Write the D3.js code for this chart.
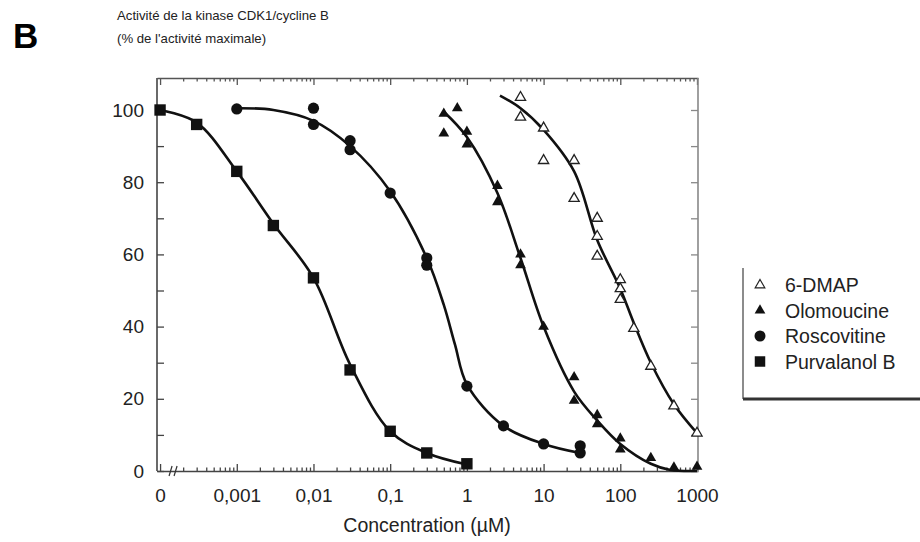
<!DOCTYPE html>
<html>
<head>
<meta charset="UTF-8">
<title>CDK1 inhibition</title>
<script src="https://cdn.jsdelivr.net/npm/d3@7"></script>
<style>
  body { margin: 0; background: #fff; }
  text { font-family: "Liberation Sans", Arial, Helvetica, sans-serif; fill: #222; }
</style>
</head>
<body>
<svg id="chart" width="920" height="542"></svg>
<script>
// concentrations in µM (0 = control), activity in % of max
const dmapConc = [5, 5, 10, 10, 25, 25, 50, 50, 50, 100, 100, 100, 150, 250, 500, 1000];
const dmapAct = [103.5, 98, 95, 86, 86, 75.5, 70, 65, 59.5, 53, 50.5, 47.5, 39.5, 29, 18, 10.5];
const oloConc = [0.5, 0.75, 0.5, 1, 1, 2.5, 2.5, 5, 5, 10, 25, 25, 50, 50, 100, 100, 250, 500, 1000];
const oloAct = [99, 100.5, 93.5, 94, 90.5, 79, 74.5, 60, 57, 40, 26, 19.5, 15.5, 13, 9, 6, 3.6, 1, 1.2];
const roscoConc = [0.001, 0.01, 0.01, 0.03, 0.03, 0.1, 0.3, 0.3, 1, 3, 10, 30, 30];
const roscoAct = [100.3, 100.5, 96, 91.5, 89, 77, 59, 57, 23.5, 12.5, 7.5, 7, 5];
const purvaConc = [0, 0.0003, 0.001, 0.003, 0.01, 0.03, 0.1, 0.3, 1];
const purvaAct = [100, 96, 83, 68, 53.5, 28, 11, 5, 2];

// fitted curves: [conc, activity]
const dmapFit = [[2.7, 104], [5, 100.5], [10, 94.5], [25, 83], [50, 64], [100, 50.5], [150, 41], [250, 30], [500, 18.5], [1000, 10.5]];
const oloFit = [[0.5, 99.5], [1, 92.5], [2.5, 77], [5, 59], [10, 40], [25, 22], [50, 14], [100, 7.5], [250, 2], [450, 0.3], [1000, 0]];
const roscoFit = [[0.001, 100.5], [0.003, 100], [0.01, 97], [0.03, 90], [0.1, 77.5], [0.3, 59], [0.5, 46], [0.7, 35], [1, 24], [3, 12.5], [10, 7.5], [30, 5]];
const purvaFit = [[0, 100], [0.0003, 96.5], [0.001, 83], [0.003, 68.5], [0.01, 53.5], [0.03, 29.5], [0.1, 11], [0.3, 5], [1, 1.8]];

const xTickValues = [0, 0.001, 0.01, 0.1, 1, 10, 100, 1000];
const xTickLabels = ["0", "0,001", "0,01", "0,1", "1", "10", "100", "1000"];
const yTickValues = [0, 10, 20, 30, 40, 50, 60, 70, 80, 90, 100];
const legendNames = ["6-DMAP", "Olomoucine", "Roscovitine", "Purvalanol B"];

const svg = d3.select("#chart");
const pLeft = 157, pRight = 698, pTop = 78, pBottom = 471;
const zeroAt = 1e-4; // where the "0" control is drawn on the broken log axis

const x = d3.scaleLog().domain([Math.pow(10, -4.04), Math.pow(10, 3.013)]).range([pLeft, pRight]);
const y = d3.scaleLinear().domain([0, 100]).range([pBottom, 110]);
const xp = c => x(c === 0 ? zeroAt : c);

// minor log ticks
const minors = [];
for (let e = -4; e < 3; e++) for (let m = 2; m < 10; m++) minors.push(m * Math.pow(10, e));
const majors = xTickValues.map(v => v === 0 ? zeroAt : v);

const axisStyle = (g, col) => {
  g.select(".domain").attr("stroke", col).attr("stroke-width", 1.6);
  g.selectAll(".tick line").attr("stroke", col).attr("stroke-width", 1.3);
  g.selectAll(".tick text").attr("font-size", 19).attr("fill", "#222");
};

svg.append("g").attr("transform", `translate(0,${pBottom})`)
  .call(d3.axisBottom(x).tickValues(minors).tickSize(-3.5).tickSizeOuter(0).tickFormat(""))
  .call(g => axisStyle(g, "#444"));
svg.append("g").attr("transform", `translate(0,${pBottom})`)
  .call(d3.axisBottom(x).tickValues(majors).tickSize(-7).tickSizeOuter(0).tickPadding(18)
    .tickFormat((d, i) => xTickLabels[i]))
  .call(g => axisStyle(g, "#444"))
  .call(g => g.select(".domain").remove());

svg.append("g").attr("transform", `translate(0,${pTop})`)
  .call(d3.axisTop(x).tickValues(minors).tickSize(-3.5).tickSizeOuter(0).tickFormat(""))
  .call(g => axisStyle(g, "#555"));
svg.append("g").attr("transform", `translate(0,${pTop})`)
  .call(d3.axisTop(x).tickValues(majors).tickSize(-7).tickSizeOuter(0).tickFormat(""))
  .call(g => axisStyle(g, "#555"))
  .call(g => g.select(".domain").remove());

svg.append("g").attr("transform", `translate(${pLeft},0)`)
  .call(d3.axisLeft(y).tickValues(yTickValues).tickSize(-7).tickSizeOuter(0).tickPadding(13)
    .tickFormat(d => d % 20 === 0 ? d : ""))
  .call(g => axisStyle(g, "#444"))
  .call(g => g.select(".domain").attr("d", `M0,${pBottom}V${pTop}`));
svg.append("g").attr("transform", `translate(${pRight},0)`)
  .call(d3.axisRight(y).tickValues(yTickValues).tickSize(-7).tickSizeOuter(0).tickFormat(""))
  .call(g => axisStyle(g, "#888"))
  .call(g => g.select(".domain").attr("d", `M0,${pBottom}V${pTop}`));

// axis break marks
[0, 5].forEach(dx => {
  svg.append("line")
    .attr("x1", xp(0) + 9 + dx).attr("y1", pBottom + 5)
    .attr("x2", xp(0) + 12 + dx).attr("y2", pBottom - 5)
    .attr("stroke", "#333").attr("stroke-width", 1.2);
});

// fitted curves
const line = d3.line().x(d => xp(d[0])).y(d => y(d[1])).curve(d3.curveCatmullRom.alpha(0.5));
[dmapFit, oloFit, roscoFit, purvaFit].forEach(f => {
  svg.append("path").datum(f).attr("d", line)
    .attr("fill", "none").attr("stroke", "#111").attr("stroke-width", 2.6);
});

const zip = (c, a) => c.map((v, i) => [v, a[i]]);

svg.append("g").selectAll("path").data(zip(purvaConc, purvaAct)).join("path")
  .attr("transform", d => `translate(${xp(d[0])},${y(d[1])})`)
  .attr("d", d3.symbol().type(d3.symbolSquare).size(130)()).attr("fill", "#111");

svg.append("g").selectAll("circle").data(zip(roscoConc, roscoAct)).join("circle")
  .attr("cx", d => xp(d[0])).attr("cy", d => y(d[1])).attr("r", 5.6).attr("fill", "#111");

svg.append("g").selectAll("path").data(zip(oloConc, oloAct)).join("path")
  .attr("transform", d => `translate(${xp(d[0])},${y(d[1])})`)
  .attr("d", d3.symbol().type(d3.symbolTriangle).size(50)()).attr("fill", "#111");

svg.append("g").selectAll("path").data(zip(dmapConc, dmapAct)).join("path")
  .attr("transform", d => `translate(${xp(d[0])},${y(d[1])})`)
  .attr("d", d3.symbol().type(d3.symbolTriangle).size(45)())
  .attr("fill", "#fff").attr("stroke", "#222").attr("stroke-width", 1.3);

// titles
svg.append("text").attr("x", 13).attr("y", 48).attr("font-size", 35).attr("font-weight", "bold")
  .style("fill", "#000").text("B");
svg.append("text").attr("x", 117).attr("y", 20).attr("font-size", 13.2).text("Activité de la kinase CDK1/cycline B");
svg.append("text").attr("x", 117).attr("y", 43).attr("font-size", 13.2).text("(% de l'activité maximale)");
svg.append("text").attr("x", 427).attr("y", 532).attr("font-size", 19.5).attr("text-anchor", "middle")
  .text("Concentration (µM)");

// legend
const lg = svg.append("g");
lg.append("line").attr("x1", 743).attr("x2", 743).attr("y1", 268).attr("y2", 399)
  .attr("stroke", "#666").attr("stroke-width", 1.5);
lg.append("line").attr("x1", 743).attr("x2", 920).attr("y1", 399).attr("y2", 399)
  .attr("stroke", "#333").attr("stroke-width", 3);
const rowY = i => 285 + i * 25.5;
legendNames.forEach((name, i) => {
  const cy = rowY(i), cx = 760;
  if (i === 0) lg.append("path").attr("transform", `translate(${cx},${cy})`)
    .attr("d", d3.symbol().type(d3.symbolTriangle).size(40)()).attr("fill", "#fff").attr("stroke", "#222").attr("stroke-width", 1.2);
  if (i === 1) lg.append("path").attr("transform", `translate(${cx},${cy})`)
    .attr("d", d3.symbol().type(d3.symbolTriangle).size(50)()).attr("fill", "#111");
  if (i === 2) lg.append("circle").attr("cx", cx).attr("cy", cy).attr("r", 5.5).attr("fill", "#111");
  if (i === 3) lg.append("path").attr("transform", `translate(${cx},${cy})`)
    .attr("d", d3.symbol().type(d3.symbolSquare).size(110)()).attr("fill", "#111");
  lg.append("text").attr("x", 785).attr("y", cy).attr("dy", "0.36em").attr("font-size", 19.5).text(name);
});
</script>
</body>
</html>
